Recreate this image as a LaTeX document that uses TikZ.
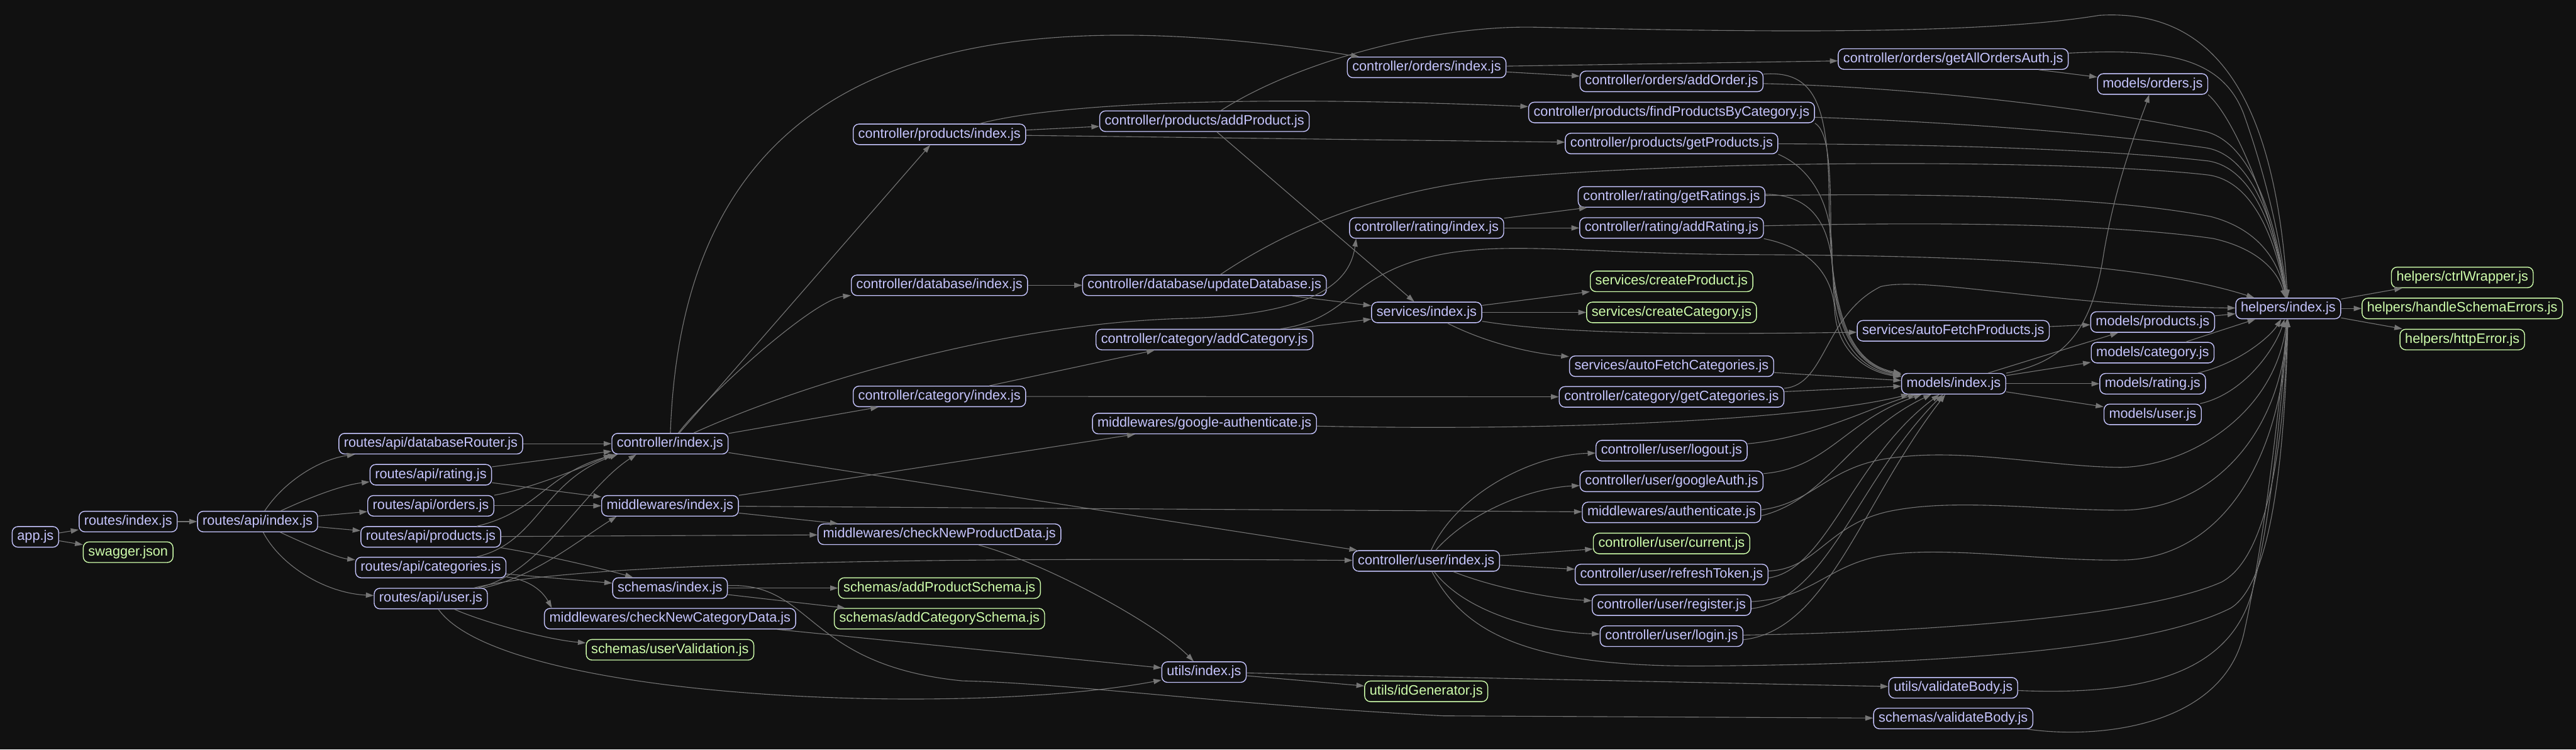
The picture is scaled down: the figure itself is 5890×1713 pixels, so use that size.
\documentclass[tikz,border=0pt]{standalone}
\usepackage{fontspec}
\setmainfont{Liberation Sans}
\usetikzlibrary{arrows.meta}
\definecolor{bgc}{HTML}{111111}
\definecolor{ndc}{HTML}{C6C5FE}
\definecolor{lfc}{HTML}{CFFFAC}
\definecolor{edc}{HTML}{757575}
\begin{document}
\begin{tikzpicture}[x=1pt,y=-1pt,
 nd/.style={draw=ndc,text=ndc,line width=2pt,rounded corners=13pt,minimum height=47pt,inner xsep=11.5pt,inner ysep=0pt,text height=22.5pt,text depth=6.5pt,font=\fontsize{31.2}{37}\selectfont},
 lf/.style={nd,draw=lfc,text=lfc},
 dep/.style={draw=edc,line width=1.6pt,-{Triangle[length=18pt,width=12pt]}}]
\useasboundingbox (0,0) rectangle (5890,1713);
\fill[bgc] (0,0) rectangle (5890,1713);
% nodes
\node[nd] (app) at (81,1227) {app.js};
\node[nd] (ridx) at (293,1192) {routes/index.js};
\node[lf] (swag) at (293,1262) {swagger.json};
\node[nd] (aidx) at (589,1192) {routes/api/index.js};
\node[nd] (rdb) at (985,1014) {routes/api/databaseRouter.js};
\node[nd] (rrat) at (985,1085) {routes/api/rating.js};
\node[nd] (rord) at (985,1156) {routes/api/orders.js};
\node[nd] (rprod) at (985,1227) {routes/api/products.js};
\node[nd] (rcat) at (985,1297) {routes/api/categories.js};
\node[nd] (rusr) at (985,1368) {routes/api/user.js};
\node[nd] (cidx) at (1532,1014) {controller/index.js};
\node[nd] (midx) at (1532,1156) {middlewares/index.js};
\node[nd] (sidx) at (1532,1344) {schemas/index.js};
\node[nd] (mcnc) at (1532,1414) {middlewares/checkNewCategoryData.js};
\node[lf] (suv) at (1532,1485) {schemas/userValidation.js};
\node[nd] (cpidx) at (2148,307) {controller/products/index.js};
\node[nd] (cdidx) at (2148,652) {controller/database/index.js};
\node[nd] (ccidx) at (2148,906) {controller/category/index.js};
\node[nd] (mcnp) at (2148,1221) {middlewares/checkNewProductData.js};
\node[lf] (saps) at (2148,1344) {schemas/addProductSchema.js};
\node[lf] (sacs) at (2148,1414) {schemas/addCategorySchema.js};
\node[nd] (cpadd) at (2754,277) {controller/products/addProduct.js};
\node[nd] (cdup) at (2754,652) {controller/database/updateDatabase.js};
\node[nd] (ccadd) at (2754,776) {controller/category/addCategory.js};
\node[nd] (mga) at (2754,968) {middlewares/google-authenticate.js};
\node[nd] (uidx) at (2753,1536) {utils/index.js};
\node[nd] (coidx) at (3262,154) {controller/orders/index.js};
\node[nd] (cridx) at (3262,521) {controller/rating/index.js};
\node[nd] (svidx) at (3262,714) {services/index.js};
\node[nd] (cuidx) at (3261,1282) {controller/user/index.js};
\node[lf] (uid) at (3261,1580) {utils/idGenerator.js};
\node[nd] (coadd) at (3822,186) {controller/orders/addOrder.js};
\node[nd] (cpfind) at (3822,257) {controller/products/findProductsByCategory.js};
\node[nd] (cpget) at (3822,328) {controller/products/getProducts.js};
\node[nd] (crget) at (3822,450) {controller/rating/getRatings.js};
\node[nd] (cradd) at (3822,521) {controller/rating/addRating.js};
\node[lf] (svcp) at (3822,643) {services/createProduct.js};
\node[lf] (svcc) at (3822,714) {services/createCategory.js};
\node[nd] (svafc) at (3822,837) {services/autoFetchCategories.js};
\node[nd] (ccget) at (3822,907) {controller/category/getCategories.js};
\node[nd] (culo) at (3822,1030) {controller/user/logout.js};
\node[nd] (cuga) at (3822,1100) {controller/user/googleAuth.js};
\node[nd] (mauth) at (3822,1171) {middlewares/authenticate.js};
\node[lf] (cucur) at (3822,1242) {controller/user/current.js};
\node[nd] (curt) at (3822,1313) {controller/user/refreshToken.js};
\node[nd] (cureg) at (3822,1383) {controller/user/register.js};
\node[nd] (culog) at (3822,1454) {controller/user/login.js};
\node[nd] (coall) at (4466,135) {controller/orders/getAllOrdersAuth.js};
\node[nd] (svafp) at (4466,756) {services/autoFetchProducts.js};
\node[nd] (moidx) at (4467,877) {models/index.js};
\node[nd] (uvb) at (4466,1572) {utils/validateBody.js};
\node[nd] (svb) at (4466,1642) {schemas/validateBody.js};
\node[nd] (mord) at (4922,192) {models/orders.js};
\node[nd] (mprod) at (4922,736) {models/products.js};
\node[nd] (mcat) at (4922,806) {models/category.js};
\node[nd] (mrat) at (4922,877) {models/rating.js};
\node[nd] (musr) at (4922,947) {models/user.js};
\node[nd] (hidx) at (5232,705) {helpers/index.js};
\node[lf] (hcw) at (5630,634) {helpers/ctrlWrapper.js};
\node[lf] (hhse) at (5630,705) {helpers/handleSchemaErrors.js};
\node[lf] (hhe) at (5630,776) {helpers/httpError.js};
% left part
\draw[dep] (app) -- (ridx);
\draw[dep] (app) -- (swag);
\draw[dep] (ridx) -- (aidx);
\draw[dep] (aidx) .. controls (650,1100) and (730,1050) .. (rdb);
\draw[dep] (aidx) .. controls (680,1150) and (770,1110) .. (rrat);
\draw[dep] (aidx) -- (rord);
\draw[dep] (aidx) -- (rprod);
\draw[dep] (aidx) .. controls (680,1235) and (770,1275) .. (rcat);
\draw[dep] (aidx) .. controls (640,1290) and (740,1355) .. (rusr);
\draw[dep] (rdb) -- (cidx);
\draw[dep] (rrat) -- (cidx);
\draw[dep] (rrat) -- (midx);
\draw[dep] (rord) .. controls (1200,1120) and (1330,1070) .. (cidx.south west);
\draw[dep] (rord) -- (midx);
\draw[dep] (rprod) .. controls (1230,1170) and (1250,1080) .. ([xshift=10pt]cidx.south west);
\draw[dep] (rprod) -- (mcnp);
\draw[dep] (rprod) .. controls (1230,1265) and (1380,1300) .. (sidx);
\draw[dep] (rcat) .. controls (1230,1240) and (1240,1100) .. ([xshift=14pt]cidx.south west);
\draw[dep] (rcat) -- (sidx);
\draw[dep] (rcat) .. controls (1210,1325) and (1240,1350) .. ([xshift=18pt]mcnc.north west);
\draw[dep] (rusr) .. controls (1240,1310) and (1330,1120) .. ([xshift=57pt]cidx.south west);
\draw[dep] (rusr) .. controls (1220,1320) and (1330,1230) .. ([xshift=35pt]midx.south west);
\draw[dep] (rusr) .. controls (1300,1290) and (2000,1272) .. (cuidx);
\draw[dep] (rusr) .. controls (1100,1420) and (1250,1462) .. (suv);
\draw[dep] (rusr) .. controls (1150,1600) and (2200,1640) .. (uidx);
% controller/index and middlewares
\draw[dep] (cidx) -- (cpidx);
\draw[dep] (cidx) .. controls (1620,900) and (1860,685) .. (cdidx);
\draw[dep] (cidx) -- (ccidx);
\draw[dep] (cidx) .. controls (1560,200) and (2100,-30) .. (coidx);
\draw[dep] (cidx) .. controls (1850,870) and (2300,740) .. (2700,728) .. controls (3050,720) and (3090,620) .. ([xshift=16pt]cridx.south west);
\draw[dep] (cidx) -- (cuidx);
\draw[dep] (midx) -- (mga);
\draw[dep] (midx) -- (mcnp);
\draw[dep] (midx) -- (mauth);
\draw[dep] (sidx) -- (saps);
\draw[dep] (sidx) -- (sacs);
\draw[dep] (sidx) .. controls (1860,1330) and (1840,1520) .. (2200,1556) .. controls (2450,1562) and (2800,1610) .. (3300,1636) -- (svb);
\draw[dep] (mcnc) -- (uidx);
\draw[dep] (mcnp) .. controls (2400,1290) and (2650,1430) .. (uidx);
\draw[dep] (uidx) -- (uid);
\draw[dep] (uidx) -- (uvb);
% products / database / category
\draw[dep] (cpidx) -- (cpadd);
\draw[dep] (cpidx) .. controls (2400,240) and (2800,215) .. (cpfind);
\draw[dep] (cpidx) -- (cpget);
\draw[dep] (cpadd) -- (svidx);
\draw[dep] (cpadd) .. controls (2950,150) and (3250,60) .. (3500,62) .. controls (3900,70) and (4500,85) .. (4800,35) .. controls (5050,20) and (5200,200) .. (hidx);
\draw[dep] (cdidx) -- (cdup);
\draw[dep] (cdup) -- (svidx);
\draw[dep] (cdup) .. controls (2950,520) and (3150,440) .. (3400,410) .. controls (3900,362) and (4750,365) .. (5050,400) .. controls (5150,415) and (5200,540) .. (hidx);
\draw[dep] (ccidx) -- (ccadd);
\draw[dep] (ccidx) -- (ccget);
\draw[dep] (ccadd) -- (svidx);
\draw[dep] (ccadd) .. controls (3080,730) and (3080,640) .. (3250,592) .. controls (3420,545) and (3600,580) .. (4000,582) .. controls (4500,584) and (4900,600) .. (hidx);
% orders / rating / services
\draw[dep] (coidx) -- (coall);
\draw[dep] (coidx) -- (coadd);
\draw[dep] (coall) -- (mord);
\draw[dep] (coall) .. controls (4950,110) and (5080,130) .. (5130,260) .. controls (5180,400) and (5215,550) .. (hidx);
\draw[dep] (mord.south east) .. controls (5100,260) and (5190,450) .. (hidx);
\draw[dep] (coadd) .. controls (4400,200) and (4800,250) .. (5040,300) .. controls (5140,322) and (5200,480) .. (hidx);
\draw[dep] (cpfind) .. controls (4500,280) and (4850,310) .. (5045,338) .. controls (5145,355) and (5200,500) .. (hidx);
\draw[dep] (cpget) .. controls (4500,330) and (4850,345) .. (5050,368) .. controls (5150,385) and (5200,520) .. (hidx);
\draw[dep] (crget) .. controls (4500,440) and (4850,455) .. (5055,495) .. controls (5150,520) and (5205,580) .. (hidx);
\draw[dep] (cradd) .. controls (4500,505) and (4850,515) .. (5060,545) .. controls (5150,565) and (5205,610) .. (hidx);
\draw[dep] (cridx) -- (crget);
\draw[dep] (cridx) -- (cradd);
\draw[dep] (svidx) -- (svcp);
\draw[dep] (svidx) -- (svcc);
\draw[dep] (svidx) .. controls (3550,760) and (3800,766) .. (svafp);
\draw[dep] (svidx) .. controls (3380,775) and (3480,805) .. (svafc);
\draw[dep] (svafp) -- (mprod);
\draw[dep] (svafc) -- (moidx);
\draw[dep] (ccget) -- (moidx);
\draw[dep] (ccget) .. controls (4175,880) and (4170,720) .. (4300,655) .. controls (4400,630) and (4700,700) .. (hidx);
% into models/index from above
\draw[dep] (coadd) .. controls (4150,160) and (4180,240) .. (4182,450) .. controls (4184,720) and (4230,830) .. (moidx);
\draw[dep] (cpfind.south east) .. controls (4180,300) and (4186,380) .. (4186,520) .. controls (4186,740) and (4240,835) .. (moidx);
\draw[dep] (cpget.south east) .. controls (4130,380) and (4188,450) .. (4189,580) .. controls (4190,760) and (4250,840) .. (moidx);
\draw[dep] ([yshift=6pt]crget.east) .. controls (4150,445) and (4190,520) .. (4192,650) .. controls (4194,780) and (4255,845) .. (moidx);
\draw[dep] (cradd.south east) .. controls (4130,565) and (4190,620) .. (4195,710) .. controls (4200,800) and (4265,850) .. (moidx);
% into models/index from below
\draw[dep] (mga) .. controls (3500,985) and (4100,965) .. (moidx);
\draw[dep] (culo) .. controls (4150,1000) and (4280,930) .. (moidx);
\draw[dep] (cuga) .. controls (4180,1070) and (4220,960) .. (moidx);
\draw[dep] ([yshift=-8pt]mauth.east) .. controls (4180,1140) and (4230,990) .. (moidx);
\draw[dep] ([yshift=-8pt]curt.east) .. controls (4180,1300) and (4235,1050) .. (moidx);
\draw[dep] ([yshift=-8pt]cureg.east) .. controls (4180,1370) and (4245,1100) .. (moidx);
\draw[dep] ([yshift=-8pt]culog.east) .. controls (4180,1440) and (4255,1150) .. (moidx);
% user controllers
\draw[dep] (cuidx) .. controls (3330,1130) and (3500,1040) .. (culo);
\draw[dep] (cuidx) .. controls (3360,1170) and (3500,1115) .. (cuga);
\draw[dep] (cuidx) -- (cucur);
\draw[dep] (cuidx) -- (curt);
\draw[dep] (cuidx) .. controls (3420,1345) and (3550,1368) .. (cureg);
\draw[dep] (cuidx) .. controls (3350,1400) and (3520,1445) .. (culog);
% into helpers from below
\draw[dep] ([yshift=6pt]mauth.east) .. controls (4150,1150) and (4180,1060) .. (4339,1045) .. controls (4500,1025) and (4700,1068) .. (4850,1068) .. controls (5000,1066) and (5200,950) .. (hidx);
\draw[dep] ([yshift=8pt]curt.east) .. controls (4160,1300) and (4180,1190) .. (4339,1165) .. controls (4480,1140) and (4680,1166) .. (4850,1166) .. controls (5050,1166) and (5215,1000) .. (hidx);
\draw[dep] ([yshift=8pt]cureg.east) .. controls (4160,1365) and (4180,1280) .. (4339,1265) .. controls (4480,1252) and (4680,1282) .. (4850,1280) .. controls (5080,1278) and (5218,1050) .. (hidx);
\draw[dep] (culog) .. controls (4400,1445) and (4900,1410) .. (5080,1330) .. controls (5190,1270) and (5222,1000) .. (hidx);
\draw[dep] (cuidx) .. controls (3350,1450) and (3500,1525) .. (3900,1522) .. controls (4400,1518) and (4900,1490) .. (5100,1390) .. controls (5200,1330) and (5225,1000) .. (hidx);
\draw[dep] (uvb) .. controls (4900,1590) and (5100,1540) .. (5150,1350) .. controls (5190,1200) and (5215,950) .. (hidx);
\draw[dep] (svb) .. controls (4800,1690) and (5080,1660) .. (5130,1450) .. controls (5175,1250) and (5210,950) .. (hidx);
% models
\draw[dep] (moidx) -- (mprod);
\draw[dep] (moidx) -- (mcat);
\draw[dep] (moidx) -- (mrat);
\draw[dep] (moidx) -- (musr);
\draw[dep] (moidx) .. controls (4700,830) and (4780,780) .. (4810,580) .. controls (4840,400) and (4900,260) .. (mord);
\draw[dep] (mprod) -- (hidx);
\draw[dep] (mcat) -- (hidx);
\draw[dep] (mrat) .. controls (5120,830) and (5190,770) .. (hidx);
\draw[dep] (musr) .. controls (5130,900) and (5200,800) .. (hidx);
% helpers
\draw[dep] (hidx) -- (hcw);
\draw[dep] (hidx) -- (hhse);
\draw[dep] (hidx) -- (hhe);
\end{tikzpicture}
\end{document}
